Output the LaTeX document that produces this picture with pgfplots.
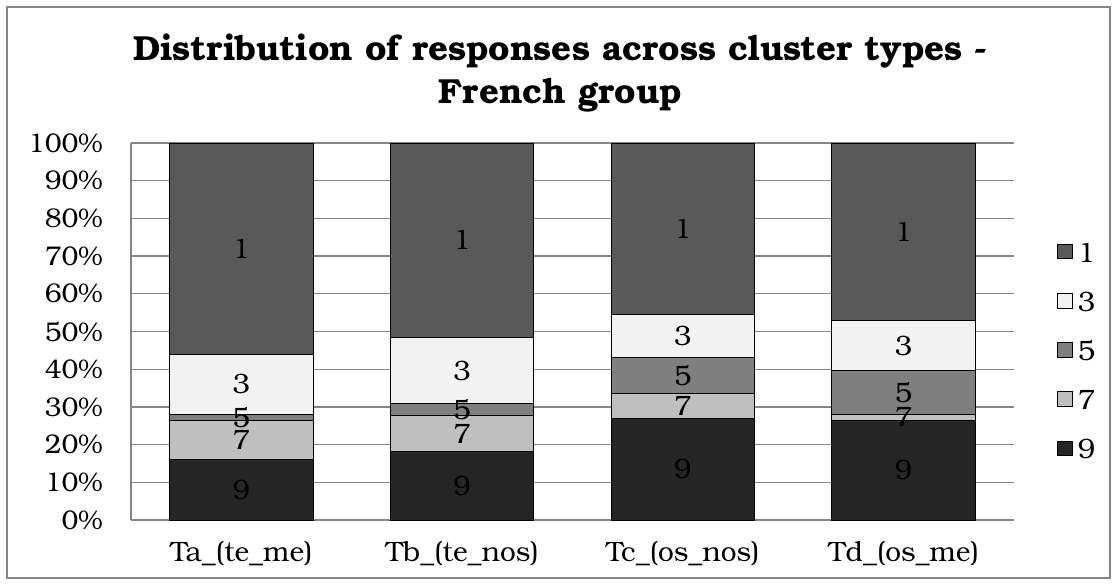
\documentclass[border=0pt]{standalone}
\usepackage{fontspec}
\setmainfont{TeX Gyre Bonum}
\usepackage{pgfplots}
\pgfplotsset{compat=1.18}
\definecolor{cNine}{HTML}{262626}
\definecolor{cSeven}{HTML}{BFBFBF}
\definecolor{cFive}{HTML}{7F7F7F}
\definecolor{cThree}{HTML}{F2F2F2}
\definecolor{cOne}{HTML}{595959}
\definecolor{gridgray}{HTML}{868686}
\pgfplotsset{
  common/.style={
    at={(0,0)}, anchor=south west,
    width=441.5pt, height=188.5pt, scale only axis,
    xmin=-0.5, xmax=3.5, ymin=0, ymax=100,
  },
  seglabel/.style={draw=none, mark=none, forget plot,
    nodes near coords={#1},
    every node near coord/.append style={anchor=center, inner sep=0pt,
      font=\fontsize{14}{16}\selectfont, text=black}},
}
\begin{document}
\begin{tikzpicture}
\path (-65.5pt,-32.5pt) rectangle (492pt,260pt);
\draw[gridgray, line width=0.75pt] (-62pt,-29pt) rectangle (489.5pt,256.5pt);
\begin{axis}[
  common,
  ybar stacked, bar width=0.65,
  xtick={0,1,2,3},
  xticklabels={Ta\_(te\_me),Tb\_(te\_nos),Tc\_(os\_nos),Td\_(os\_me)},
  ytick={0,10,...,100},
  yticklabels={0\%,10\%,20\%,30\%,40\%,50\%,60\%,70\%,80\%,90\%,100\%},
  major tick length=0pt,
  axis x line*=bottom, axis y line*=left,
  axis line style={gridgray, line width=0.75pt},
  ymajorgrids, grid style={gridgray, line width=0.65pt},
  xticklabel style={font=\fontsize{14}{16}\selectfont, text=black, anchor=north, inner sep=0pt, yshift=-10.5pt},
  yticklabel style={font=\fontsize{13.5}{15}\selectfont, text=black, anchor=east, inner sep=0pt, xshift=-14pt},
  title={Distribution of responses across cluster types -\\French group},
  title style={at={(0.486,1.153)}, anchor=center, align=center,
    font=\bfseries\fontsize{17.4}{21.5}\selectfont},
  legend style={at={(1.0487,0.4496)}, anchor=west, draw=none, fill=none,
    font=\fontsize{14}{16}\selectfont, row sep=14.6pt,
    nodes={inner sep=0pt, text height=10pt, text depth=0pt},
    /tikz/every odd column/.style={column sep=2.5pt},
    legend cell align=left, inner sep=0pt},
  reverse legend,
  legend image code/.code={\draw[#1, draw=black, line width=0.4pt] (0pt,-3.3pt) rectangle (7.3pt,4pt);},
  every axis plot/.append style={draw=black, line width=0.5pt},
]
\addplot[fill=cNine] coordinates {(0,16.1) (1,18.1) (2,27.0) (3,26.3)};
\addplot[fill=cSeven] coordinates {(0,10.2) (1,9.6) (2,6.6) (3,1.8)};
\addplot[fill=cFive] coordinates {(0,1.8) (1,3.1) (2,9.6) (3,11.5)};
\addplot[fill=cThree] coordinates {(0,15.9) (1,17.6) (2,11.4) (3,13.2)};
\addplot[fill=cOne] coordinates {(0,56.0) (1,51.6) (2,45.4) (3,47.2)};
\legend{9,7,5,3,1}
\end{axis}
\begin{axis}[common, hide axis]
\addplot[seglabel=9] coordinates {(0,8.05) (1,9.05) (2,13.5) (3,13.15)};
\addplot[seglabel=7] coordinates {(0,21.2) (1,22.9) (2,30.3) (3,27.2)};
\addplot[seglabel=5] coordinates {(0,27.2) (1,29.25) (2,38.4) (3,33.85)};
\addplot[seglabel=3] coordinates {(0,36.05) (1,39.6) (2,48.9) (3,46.2)};
\addplot[seglabel=1] coordinates {(0,72.0) (1,74.2) (2,77.3) (3,76.4)};
\end{axis}
\end{tikzpicture}
\end{document}
